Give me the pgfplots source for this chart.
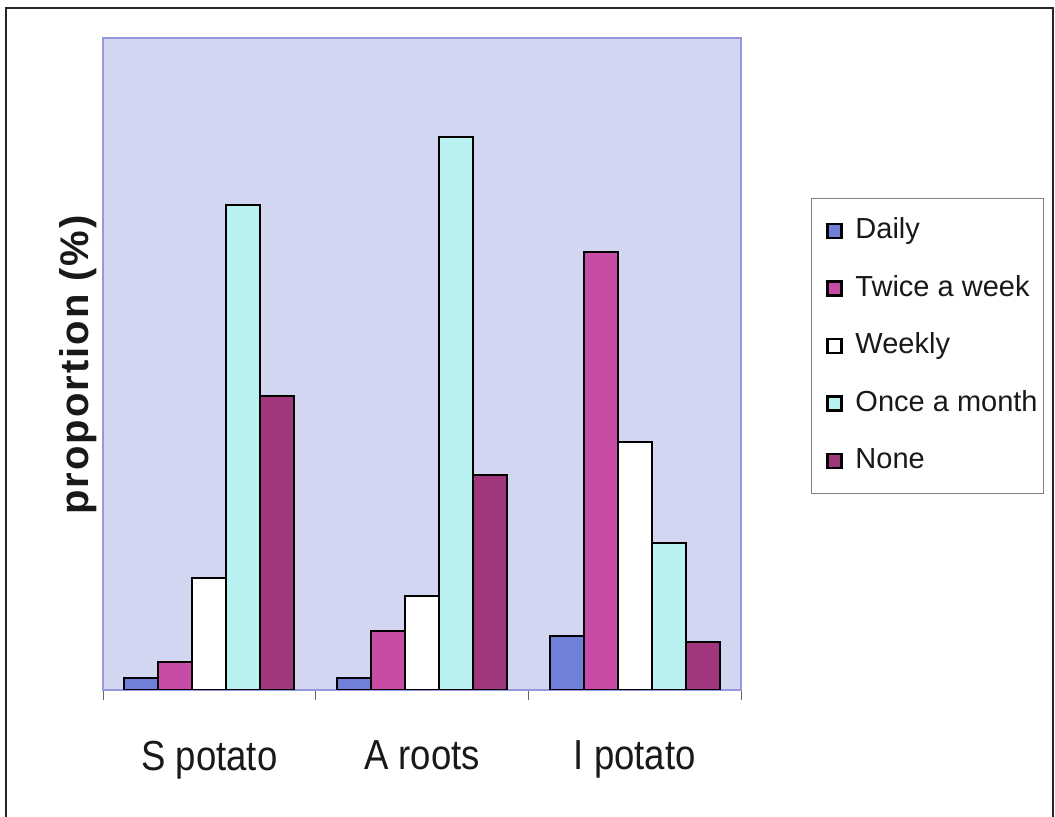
\documentclass[border=0pt]{standalone}
\usepackage{pgfplots}
\pgfplotsset{compat=1.18}
\usepackage{fontspec}
\setmainfont{Liberation Sans}
\newfontfamily\narrowfont[FakeStretch=0.87]{Liberation Sans}
\newfontfamily\spacedbold[LetterSpace=5]{Liberation Sans Bold}

\definecolor{cDaily}{RGB}{112,128,216}
\definecolor{cTwice}{RGB}{200,75,165}
\definecolor{cWeekly}{RGB}{255,255,255}
\definecolor{cMonth}{RGB}{185,240,240}
\definecolor{cNone}{RGB}{160,55,125}
\definecolor{plotbg}{RGB}{210,214,240}
\definecolor{axisborder}{RGB}{150,150,225}

\begin{document}
\begin{tikzpicture}
\begin{scope}[x=0.5pt,y=0.5pt]
  \useasboundingbox (0,0) rectangle (1055,817);
  \draw[line width=1pt, black!85] (6,-5) -- (6,809) -- (1053,809) -- (1053,-5);
  \node[rotate=90, font=\spacedbold\fontsize{20}{24}\selectfont, text=black!90] at (78,452) {proportion (\%)};
\end{scope}
\begin{axis}[
  at={(51.5pt,63.5pt)}, anchor=south west,
  scale only axis, width=319pt, height=326pt,
  ybar=0pt, bar width=0.16,
  xmin=-0.5, xmax=2.5, ymin=0, ymax=60,
  xtick={0,1,2}, xticklabels={S potato, A roots, I potato},
  minor xtick={-0.5,0.5,1.5,2.5},
  xtick pos=bottom,
  ytick=\empty,
  major tick length=0pt, minor tick length=5pt, tick align=outside,
  minor tick style={draw=black!60, line width=0.5pt},
  axis background/.style={fill=plotbg},
  axis line style={draw=axisborder, line width=0.6pt},
  xticklabel style={font=\narrowfont\fontsize{21}{24}\selectfont, text=black!90, yshift=-22pt},
  legend cell align=left,
  legend style={at={(1.1097,0.7546)}, anchor=north west, draw=black!50, line width=0.5pt,
    fill=white, font=\fontsize{14.5}{17}\selectfont, text=black!90,
    inner xsep=3pt, inner ysep=9.5pt, row sep=15.25pt,
    nodes={inner sep=0pt, text height=10.5pt, text depth=3pt}},
  legend image code/.code={
    \path (-4.5pt,0) (13.5pt,0);
    \draw[#1, draw=black, line width=1.2pt] (0pt,-3.5pt) rectangle (7pt,3.5pt);
  },
]
\addplot[fill=cDaily, draw=black, line width=1pt] coordinates {(0,1.1) (1,1.1) (2,4.97)};
\addplot[fill=cTwice, draw=black, line width=1pt] coordinates {(0,2.58) (1,5.43) (2,40.31)};
\addplot[fill=cWeekly, draw=black, line width=1pt] coordinates {(0,10.31) (1,8.65) (2,22.82)};
\addplot[fill=cMonth, draw=black, line width=1pt] coordinates {(0,44.63) (1,50.89) (2,13.53)};
\addplot[fill=cNone, draw=black, line width=1pt] coordinates {(0,27.06) (1,19.79) (2,4.42)};
\legend{Daily, Twice a week, Weekly, Once a month, None}
\end{axis}
\end{tikzpicture}
\end{document}
